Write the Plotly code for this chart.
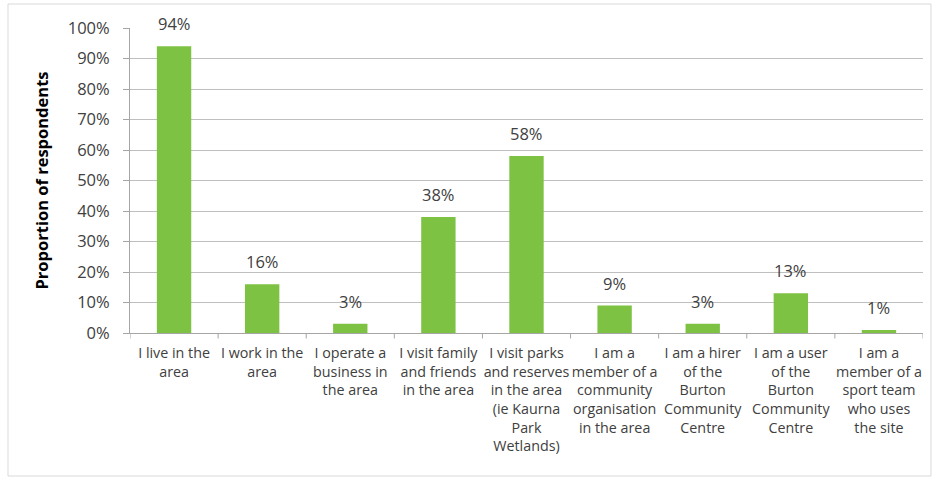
import plotly.graph_objects as go

categories = [
    "I live in the<br>area",
    "I work in the<br>area",
    "I operate a<br>business in<br>the area",
    "I visit family<br>and friends<br>in the area",
    "I visit parks<br>and reserves<br>in the area<br>(ie Kaurna<br>Park<br>Wetlands)",
    "I am a<br>member of a<br>community<br>organisation<br>in the area",
    "I am a hirer<br>of the<br>Burton<br>Community<br>Centre",
    "I am a user<br>of the<br>Burton<br>Community<br>Centre",
    "I am a<br>member of a<br>sport team<br>who uses<br>the site",
]
values = [0.94, 0.16, 0.03, 0.38, 0.58, 0.09, 0.03, 0.13, 0.01]
value_labels = ["94%", "16%", "3%", "38%", "58%", "9%", "3%", "13%", "1%"]
ytick_vals = [i / 10 for i in range(11)]
ytick_text = [f"{i * 10}%" for i in range(11)]

FONT = "Open Sans"
TEXT = "#404040"
GREEN = "#7DC242"

fig = go.Figure()
fig.add_trace(go.Bar(
    x=list(range(len(categories))),
    y=values,
    marker=dict(color=GREEN, line=dict(width=0)),
    width=0.39,
    hoverinfo="skip",
))

for i, (v, t) in enumerate(zip(values, value_labels)):
    fig.add_annotation(
        x=i, y=v, text=t, showarrow=False,
        yanchor="bottom", yshift=9,
        font=dict(family=FONT, size=16.5, color=TEXT),
    )

fig.update_layout(
    width=939, height=478,
    margin=dict(l=130, r=16, t=28, b=145),
    paper_bgcolor="white", plot_bgcolor="white",
    showlegend=False,
    font=dict(family=FONT, color=TEXT),
)
fig.update_xaxes(
    type="linear",
    range=[-0.5, len(categories) - 0.5],
    tickmode="array",
    tickvals=list(range(len(categories))),
    ticktext=categories,
    ticks="",
    ticklabelstandoff=7,
    showgrid=False,
    showline=True, linecolor="#a6a6a6", linewidth=1,
    tickfont=dict(family=FONT, size=14.3, color=TEXT),
    zeroline=False,
)
# boundary tick marks between categories
for b in range(len(categories) + 1):
    fig.add_shape(
        type="line", xref="x", yref="paper",
        x0=b - 0.5, x1=b - 0.5, y0=0, y1=-0.018,
        line=dict(color="#a6a6a6", width=1),
    )
fig.update_yaxes(
    range=[0, 1.0],
    tickmode="array", tickvals=ytick_vals, ticktext=ytick_text,
    ticks="outside", ticklen=6, tickcolor="#a6a6a6",
    ticklabelstandoff=10,
    showgrid=True, gridcolor="#bfbfbf", gridwidth=1,
    showline=True, linecolor="#a6a6a6", linewidth=1,
    zeroline=False,
    tickfont=dict(family=FONT, size=16.5, color=TEXT),
    title=dict(text="<b>Proportion of respondents</b>",
               font=dict(family=FONT, size=16.5, color="#000000"),
               standoff=14),
)
# outer chart frame
fig.add_shape(
    type="rect", xref="paper", yref="paper",
    x0=-122/793, x1=1 + 8/793, y0=-143/305, y1=1 + 24/305,
    line=dict(color="#d9d9d9", width=1), fillcolor="rgba(0,0,0,0)",
    layer="below",
)

fig.write_html("out.html")
